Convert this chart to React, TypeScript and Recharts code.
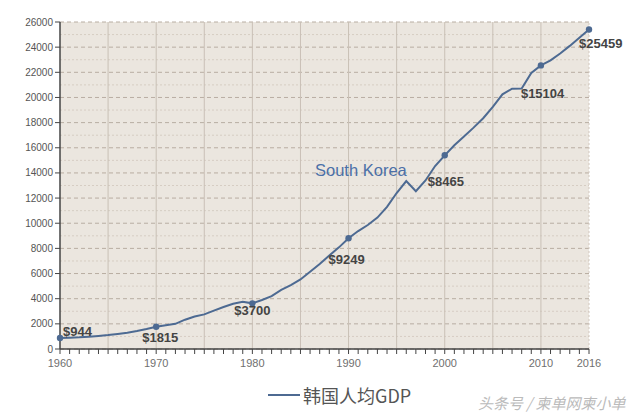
import { LineChart, Line, XAxis, YAxis, CartesianGrid, ReferenceLine } from "recharts";

const YEARS = [
  1960, 1961, 1962, 1963, 1964, 1965, 1966, 1967, 1968, 1969,
  1970, 1971, 1972, 1973, 1974, 1975, 1976, 1977, 1978, 1979,
  1980, 1981, 1982, 1983, 1984, 1985, 1986, 1987, 1988, 1989,
  1990, 1991, 1992, 1993, 1994, 1995, 1996, 1997, 1998, 1999,
  2000, 2001, 2002, 2003, 2004, 2005, 2006, 2007, 2008, 2009,
  2010, 2011, 2012, 2013, 2014, 2016,
];

const GDP = [
  880, 900, 930, 980, 1040, 1110, 1200, 1300, 1430, 1590,
  1770, 1880, 2000, 2330, 2580, 2750, 3050, 3340, 3600, 3760,
  3630, 3900, 4200, 4700, 5080, 5530, 6140, 6760, 7430, 8080,
  8800, 9380, 9860, 10450, 11300, 12400, 13350, 12550, 13400, 14550,
  15400, 16200, 16900, 17600, 18350, 19250, 20250, 20700, 20720, 21950,
  22550, 22950, 23500, 24100, 24750, 25400,
];

const Y_TICKS = [0, 2000, 4000, 6000, 8000, 10000, 12000, 14000, 16000, 18000, 20000, 22000, 24000, 26000];
const Y_MINOR = [1000, 3000, 5000, 7000, 9000, 11000, 13000, 15000, 17000, 19000, 21000, 23000, 25000];
const X_LABELS = [1960, 1970, 1980, 1990, 2000, 2010, 2016];
const X_GRID = [1965, 1970, 1975, 1980, 1985, 1990, 1995, 2000, 2005, 2010];

const LABEL_YEARS = [1960, 1970, 1980, 1990, 2000, 2010, 2016];
const LABEL_TEXT = ["$944", "$1815", "$3700", "$9249", "$8465", "$15104", "$25459"];

// text start / baseline offsets from each marked point
const LABEL_OFFSETS = [
  [3, -2], [-14, 15], [-18, 12], [-20, 26], [-17, 31], [-20, 33], [-10, 18],
];

const data = YEARS.map((year, i) => ({ year, gdp: GDP[i] }));

const LINE_COLOR = "#4d6a92";
const FONT = "'Liberation Sans', Arial, sans-serif";

function YearTick(props: any) {
  const { x, y, payload } = props;
  if (!X_LABELS.includes(payload.value)) return <g />;
  return (
    <text x={x} y={y} dy={11} textAnchor="middle" fontSize={11} fill="#6f6f6f" stroke="none" fontFamily={FONT}>
      {payload.value}
    </text>
  );
}

function MarkDot(props: any) {
  const { cx, cy, payload, index } = props;
  const k = LABEL_YEARS.indexOf(payload.year);
  if (k < 0) return <g key={index} />;
  const [dx, dy] = LABEL_OFFSETS[k];
  return (
    <g key={index}>
      <circle cx={cx} cy={cy} r={3.2} fill={LINE_COLOR} />
      <text x={cx + dx} y={cy + dy} fontSize={13} fontWeight={600} fill="#444" fontFamily={FONT}>
        {LABEL_TEXT[k]}
      </text>
    </g>
  );
}

export default function App() {
  return (
    <div style={{ position: "absolute", left: 0, top: 0, width: 640, height: 414, background: "#fff" }}>
      <LineChart width={640} height={414} data={data} margin={{ top: 22, right: 51, left: 0, bottom: 35 }}>
        <CartesianGrid vertical={false} fill="#ebe6df" stroke="#b8ada2" strokeDasharray="4 3" />
        {Y_MINOR.map((v) => (
          <ReferenceLine key={v} y={v} stroke="#d6cdc3" strokeDasharray="2 2" />
        ))}
        {X_GRID.map((yr) => (
          <ReferenceLine key={yr} x={yr} stroke="#c9c0b6" />
        ))}
        <ReferenceLine x={2016} stroke="#d2c9bf" strokeDasharray="2 2" />
        <XAxis
          dataKey="year"
          type="category"
          interval={0}
          height={30}
          tick={<YearTick />}
          tickSize={5}
          axisLine={{ stroke: "#444", strokeWidth: 1.5 }}
          tickLine={{ stroke: "#444" }}
        />
        <YAxis
          width={60}
          domain={[0, 26000]}
          ticks={Y_TICKS}
          interval={0}
          tickSize={5}
          tick={{ fontSize: 10, fill: "#555", fontFamily: FONT }}
          axisLine={{ stroke: "#444", strokeWidth: 1.5 }}
          tickLine={{ stroke: "#444" }}
        />
        <Line
          type="linear"
          dataKey="gdp"
          stroke={LINE_COLOR}
          strokeWidth={2}
          dot={MarkDot}
          activeDot={false}
          isAnimationActive={false}
        />
      </LineChart>
      <div style={{ position: "absolute", left: 315, top: 161, fontFamily: FONT, fontSize: 16.5, color: "#4b70a8" }}>
        South Korea
      </div>
      <div style={{ position: "absolute", left: 268, top: 382, display: "flex", alignItems: "center" }}>
        <div style={{ width: 32, height: 2.5, background: LINE_COLOR }} />
        <span style={{ marginLeft: 3, fontSize: 18, color: "#555", fontFamily: "'Noto Sans CJK SC', sans-serif" }}>
          韩国人均GDP
        </span>
      </div>
      <div style={{ position: "absolute", left: 478, top: 392, fontSize: 15, color: "#bbb", fontStyle: "italic", fontFamily: "'Noto Sans CJK SC', sans-serif" }}>
        头条号 / 柬单网柬小单
      </div>
    </div>
  );
}
